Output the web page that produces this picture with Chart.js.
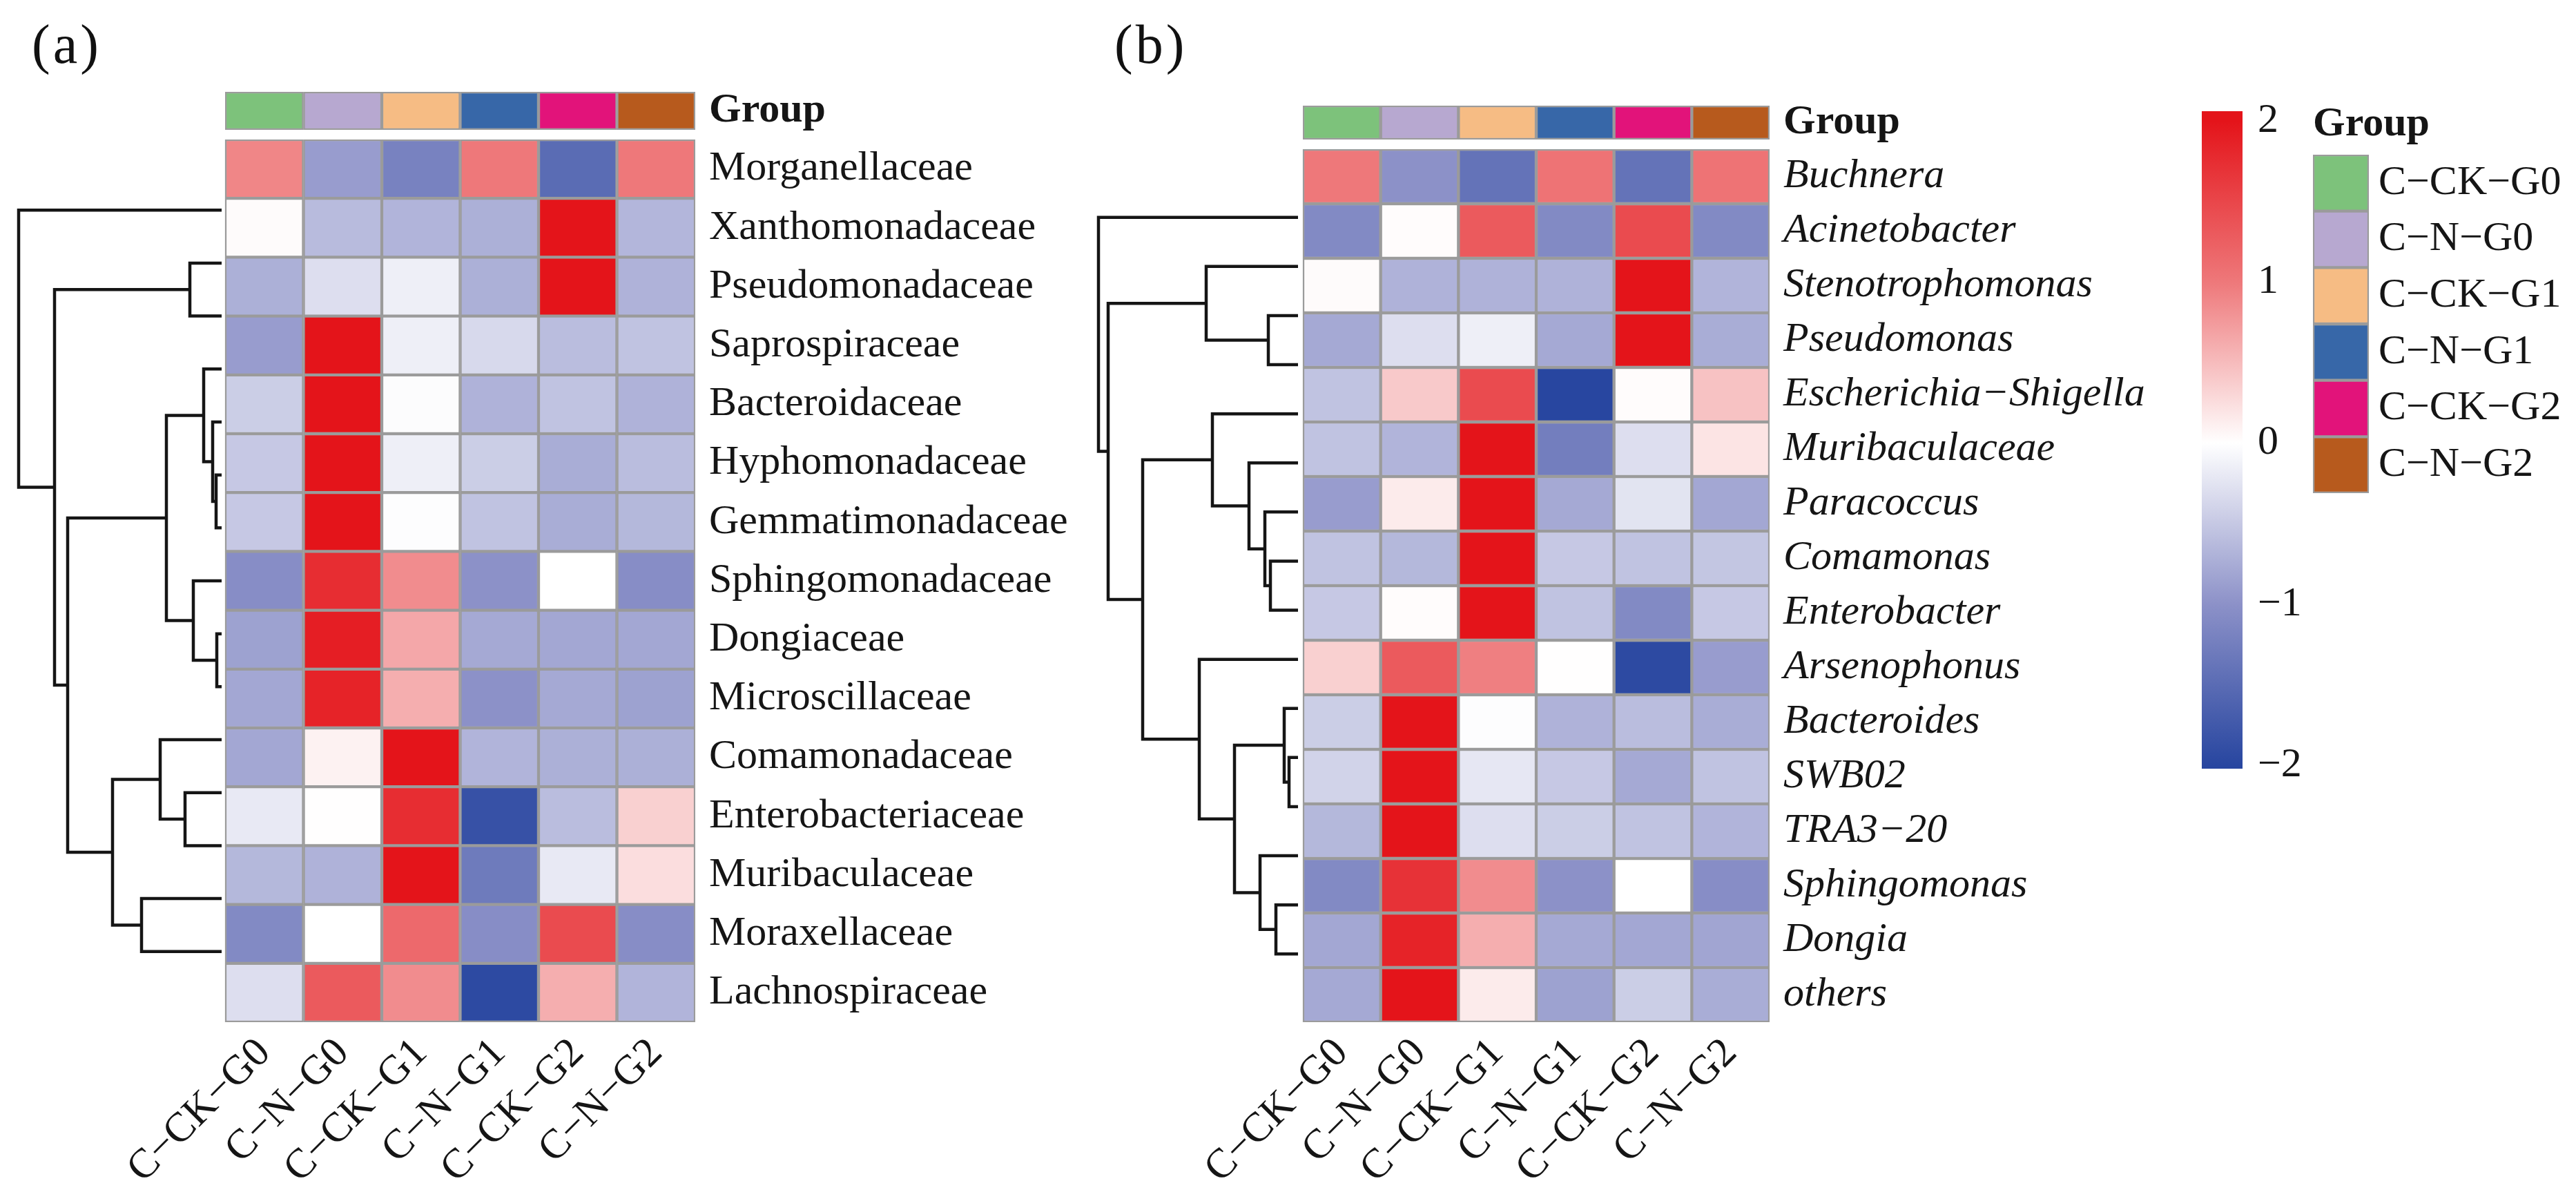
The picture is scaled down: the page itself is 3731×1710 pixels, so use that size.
<!DOCTYPE html>
<html>
<head>
<meta charset="utf-8">
<script src="https://cdn.jsdelivr.net/npm/chart.js@4.4.0/dist/chart.umd.min.js"></script>
<style>
  html, body { margin: 0; padding: 0; background: #fff; }
  #wrap { position: relative; width: 3731px; height: 1710px; overflow: hidden; background: #fff; }
  canvas { position: absolute; }
  .tag { position: absolute; font: 80px 'Liberation Serif', serif; line-height: 80px; letter-spacing: 4px; color: #111; }
</style>
</head>
<body>
<div id="wrap">
  <div class="tag" style="left:46px;top:24px">(a)</div>
  <div class="tag" style="left:1614px;top:24px">(b)</div>
  <canvas id="grpA"></canvas>
  <canvas id="heatA"></canvas>
  <canvas id="grpB"></canvas>
  <canvas id="heatB"></canvas>
  <canvas id="cbar"></canvas>
  <canvas id="legend"></canvas>
</div>
<script>
/* ---------- data ---------- */
const GROUPS = ['C−CK−G0', 'C−N−G0', 'C−CK−G1', 'C−N−G1', 'C−CK−G2', 'C−N−G2'];
const GROUP_COLORS = ['#7DC27B', '#B7A8D0', '#F6BC84', '#3767A8', '#E2137A', '#B75A1D'];

const ROWS_A = ['Morganellaceae', 'Xanthomonadaceae', 'Pseudomonadaceae', 'Saprospiraceae', 'Bacteroidaceae',
  'Hyphomonadaceae', 'Gemmatimonadaceae', 'Sphingomonadaceae', 'Dongiaceae', 'Microscillaceae',
  'Comamonadaceae', 'Enterobacteriaceae', 'Muribaculaceae', 'Moraxellaceae', 'Lachnospiraceae'];
const VALUES_A = [
  [0.90, -0.90, -1.20, 1.00, -1.50, 1.00],
  [0.03, -0.62, -0.68, -0.72, 2.00, -0.66],
  [-0.72, -0.30, -0.15, -0.72, 2.00, -0.70],
  [-0.90, 2.00, -0.15, -0.35, -0.60, -0.55],
  [-0.45, 2.00, -0.03, -0.70, -0.55, -0.70],
  [-0.50, 2.00, -0.15, -0.45, -0.75, -0.60],
  [-0.50, 2.00, -0.02, -0.55, -0.75, -0.65],
  [-1.05, 1.75, 0.85, -1.00, 0.00, -1.05],
  [-0.85, 1.90, 0.65, -0.78, -0.80, -0.80],
  [-0.80, 1.85, 0.60, -1.00, -0.78, -0.85],
  [-0.80, 0.10, 2.00, -0.68, -0.72, -0.72],
  [-0.20, 0.01, 1.75, -1.85, -0.60, 0.35],
  [-0.65, -0.70, 2.00, -1.30, -0.20, 0.25],
  [-1.10, 0.00, 1.15, -1.05, 1.45, -1.05],
  [-0.30, 1.30, 0.85, -1.95, 0.60, -0.68]
];
// dendrogram: [height, left, right], leaves are row indices
const TREE_A = [2.94, 0, [2.42, [0.46, 1, 2],
  [2.23, [0.80, [0.26, 3, [0.13, 4, [0.08, 5, 6]]], [0.41, 7, [0.07, 8, 9]]],
         [1.58, [0.89, 10, [0.53, 11, 12]], [1.16, 13, 14]]]]];

const ROWS_B = ['Buchnera', 'Acinetobacter', 'Stenotrophomonas', 'Pseudomonas', 'Escherichia−Shigella',
  'Muribaculaceae', 'Paracoccus', 'Comamonas', 'Enterobacter', 'Arsenophonus', 'Bacteroides',
  'SWB02', 'TRA3−20', 'Sphingomonas', 'Dongia', 'others'];
const VALUES_B = [
  [1.00, -1.00, -1.40, 1.05, -1.40, 1.05],
  [-1.10, 0.02, 1.30, -1.10, 1.45, -1.10],
  [0.03, -0.70, -0.70, -0.70, 2.00, -0.68],
  [-0.78, -0.30, -0.15, -0.78, 2.00, -0.75],
  [-0.55, 0.40, 1.45, -2.00, 0.02, 0.45],
  [-0.55, -0.68, 2.00, -1.25, -0.30, 0.20],
  [-0.90, 0.15, 2.00, -0.78, -0.25, -0.80],
  [-0.55, -0.65, 2.00, -0.50, -0.55, -0.52],
  [-0.50, 0.02, 2.00, -0.55, -1.10, -0.50],
  [0.35, 1.30, 0.95, 0.01, -1.95, -0.90],
  [-0.45, 2.00, -0.02, -0.70, -0.60, -0.75],
  [-0.40, 2.00, -0.22, -0.50, -0.78, -0.55],
  [-0.65, 2.00, -0.30, -0.45, -0.55, -0.68],
  [-1.10, 1.70, 0.85, -1.00, 0.00, -1.05],
  [-0.80, 1.85, 0.60, -0.78, -0.80, -0.82],
  [-0.78, 2.00, 0.15, -0.85, -0.45, -0.75]
];
const TREE_B = [2.89, 0, [2.75, [1.33, 1, [0.43, 2, 3]],
  [2.25, [1.24, 4, [0.71, 5, [0.48, 6, [0.40, 7, 8]]]],
         [1.43, 9, [0.92, [0.20, 10, [0.13, 11, 12]], [0.55, 13, [0.32, 14, 15]]]]]]];

const CB_TICKS = [2, 1, 0, -1, -2];
const CB_MIN = -2.02, CB_MAX = 2.06;

/* ---------- style ---------- */
const FONT = "'Liberation Serif', 'Times New Roman', serif";
const INK = '#151515';
const CELL_EDGE = '#9b9b9b';
const PAL = [[-2, [40, 70, 160]], [-1, [140, 145, 200]], [0, [255, 255, 255]], [1, [238, 120, 122]], [2, [228, 20, 26]]];

function heatColor(v) {
  v = Math.max(-2, Math.min(2, v));
  for (let i = 0; i < PAL.length - 1; i++) {
    const [a, ca] = PAL[i], [b, cb] = PAL[i + 1];
    if (v <= b) {
      const t = (v - a) / (b - a);
      const c = ca.map((x, k) => Math.round(x + (cb[k] - x) * t));
      return `rgb(${c[0]},${c[1]},${c[2]})`;
    }
  }
  return 'rgb(228,20,26)';
}

function place(id, left, top, w, h) {
  const el = document.getElementById(id);
  el.width = w; el.height = h;
  el.style.left = left + 'px'; el.style.top = top + 'px';
  el.style.width = w + 'px'; el.style.height = h + 'px';
  return el;
}

const noAxisLines = { grid: { display: false, drawTicks: false }, border: { display: false } };
// keep tick labels from pushing the plot area around
function noPad(ax) { ax.paddingTop = 0; ax.paddingBottom = 0; ax.paddingLeft = 0; ax.paddingRight = 0; }

/* dendrogram links as U shapes in (x = -distance, y = row) space */
function dendroLinks(tree, toX) {
  const out = [];
  (function walk(node) {
    if (typeof node === 'number') return { y: node, h: 0 };
    const [h, a, b] = node;
    const l = walk(a), r = walk(b);
    out.push([{ x: toX(l.h), y: l.y }, { x: toX(h), y: l.y }, { x: toX(h), y: r.y }, { x: toX(r.h), y: r.y }]);
    return { y: (l.y + r.y) / 2, h };
  })(tree);
  return out;
}

/* heatmap + row dendrogram + labels */
function heatChart(id, rows, vals, tree, g) {
  const el = place(id, g.cl, g.ct, g.cw, g.ch);
  const colW = (g.right - g.left) / GROUPS.length;
  const padL = 10;
  const xmin = -(g.left - g.cl - padL) / colW;
  const toX = h => -(g.gap + h * 100) / colW;
  const cells = GROUPS.map((name, c) => ({
    type: 'bar', label: name, xAxisID: 'x', yAxisID: 'y',
    data: rows.map(() => [c, c + 1]),
    backgroundColor: vals.map(r => heatColor(r[c])),
    borderColor: CELL_EDGE, borderWidth: 2.5, borderSkipped: false,
    barPercentage: 1, categoryPercentage: 1, grouped: false
  }));
  const links = dendroLinks(tree, toX).map(pts => ({
    type: 'line', data: pts, xAxisID: 'x', yAxisID: 'yd',
    borderColor: INK, borderWidth: 4.5, pointRadius: 0, fill: false, tension: 0,
    borderJoinStyle: 'miter'
  }));
  new Chart(el, {
    type: 'bar',
    data: { labels: rows, datasets: cells.concat(links) },
    options: {
      indexAxis: 'y', responsive: false, animation: false, devicePixelRatio: 1,
      layout: { padding: { left: padL, top: g.top - g.ct, right: 0, bottom: 0 } },
      plugins: { legend: { display: false }, tooltip: { enabled: false } },
      scales: {
        x: {
          type: 'linear', min: xmin, max: GROUPS.length, position: 'bottom', ...noAxisLines,
          afterBuildTicks: ax => { ax.ticks = GROUPS.map((_, i) => ({ value: i + 0.5 })); },
          afterFit: ax => { ax.height = g.ch - (g.bottom - g.ct); noPad(ax); },
          ticks: { autoSkip: false, minRotation: 45, maxRotation: 45, padding: 10, color: INK,
                   font: { family: FONT, size: 60 }, callback: (v, i) => GROUPS[i] }
        },
        y: {
          type: 'category', position: 'right', offset: true, ...noAxisLines,
          afterFit: ax => { ax.width = g.cw - (g.right - g.cl); noPad(ax); },
          ticks: { padding: 20, color: INK, font: { family: FONT, size: 60, style: g.italic ? 'italic' : 'normal' } }
        },
        yd: { type: 'linear', display: false, min: -0.5, max: rows.length - 0.5, reverse: true }
      }
    }
  });
}

/* group annotation strip above a heatmap */
function groupStrip(id, g) {
  const pad = 35;
  const el = place(id, g.cl, g.top - pad, g.cw, g.bottom - g.top + 2 * pad);
  new Chart(el, {
    type: 'bar',
    data: {
      labels: ['Group'],
      datasets: GROUPS.map((name, c) => ({
        label: name, data: [[c, c + 1]], backgroundColor: GROUP_COLORS[c],
        borderColor: CELL_EDGE, borderWidth: 2.5, borderSkipped: false,
        barPercentage: 1, categoryPercentage: 1, grouped: false
      }))
    },
    options: {
      indexAxis: 'y', responsive: false, animation: false, devicePixelRatio: 1,
      layout: { padding: { left: g.left - g.cl, top: pad, right: 0, bottom: pad } },
      plugins: { legend: { display: false }, tooltip: { enabled: false } },
      scales: {
        x: { type: 'linear', min: 0, max: GROUPS.length, display: false },
        y: {
          position: 'right', offset: true, ...noAxisLines,
          afterFit: ax => { ax.width = g.cw - (g.right - g.cl); noPad(ax); },
          ticks: { padding: 20, color: INK, font: { family: FONT, size: 60, weight: 'bold' } }
        }
      }
    }
  });
}

const GEO_A = { cl: 0, ct: 190, cw: 1560, ch: 1520, left: 326, right: 1007, top: 202, bottom: 1480, gap: 5, italic: false };
const GEO_B = { cl: 1560, ct: 190, cw: 1600, ch: 1520, left: 1887, right: 2563, top: 216, bottom: 1480, gap: 7, italic: true };

groupStrip('grpA', { cl: 0, cw: 1560, left: 326, right: 1007, top: 133, bottom: 188 });
groupStrip('grpB', { cl: 1560, cw: 1600, left: 1887, right: 2563, top: 153, bottom: 202 });
heatChart('heatA', ROWS_A, VALUES_A, TREE_A, GEO_A);
heatChart('heatB', ROWS_B, VALUES_B, TREE_B, GEO_B);

/* colour key */
(function () {
  const el = place('cbar', 3150, 100, 200, 1100);
  new Chart(el, {
    type: 'bar',
    data: {
      labels: [''],
      datasets: [{
        data: [[CB_MIN, CB_MAX]], borderWidth: 0, barPercentage: 1, categoryPercentage: 1,
        backgroundColor: ctx => {
          const ch = ctx.chart;
          if (!ch.chartArea) return '#fff';
          const ys = ch.scales.y;
          const grd = ch.ctx.createLinearGradient(0, ys.getPixelForValue(-2), 0, ys.getPixelForValue(2));
          PAL.forEach(([v]) => grd.addColorStop((v + 2) / 4, heatColor(v)));
          return grd;
        }
      }]
    },
    options: {
      responsive: false, animation: false, devicePixelRatio: 1,
      layout: { padding: { left: 39, top: 61, right: 0, bottom: 87 } },
      plugins: { legend: { display: false }, tooltip: { enabled: false } },
      scales: {
        x: { display: false },
        y: {
          type: 'linear', min: CB_MIN, max: CB_MAX, position: 'right', ...noAxisLines,
          afterBuildTicks: ax => { ax.ticks = CB_TICKS.map(v => ({ value: v })); },
          afterFit: ax => { ax.width = 102; noPad(ax); },
          ticks: { padding: 22, color: INK, font: { family: FONT, size: 60 },
                   callback: v => v < 0 ? '−' + Math.abs(v) : String(v) }
        }
      }
    }
  });
})();

/* group legend */
(function () {
  const el = place('legend', 3330, 144, 401, 570);
  new Chart(el, {
    type: 'bar',
    data: {
      labels: GROUPS,
      datasets: [{
        data: GROUPS.map(() => [0, 1]), backgroundColor: GROUP_COLORS,
        borderColor: CELL_EDGE, borderWidth: 2.5, borderSkipped: false,
        barPercentage: 1, categoryPercentage: 1
      }]
    },
    options: {
      indexAxis: 'y', responsive: false, animation: false, devicePixelRatio: 1,
      layout: { padding: { left: 20, top: 0, right: 0, bottom: 0 } },
      plugins: {
        legend: { display: false }, tooltip: { enabled: false },
        title: { display: true, text: 'Group', align: 'start', color: INK,
                 font: { family: FONT, size: 60, weight: 'bold' }, padding: { top: 0, bottom: 8 } }
      },
      scales: {
        x: { type: 'linear', min: 0, max: 1, display: false },
        y: {
          position: 'right', ...noAxisLines,
          afterFit: ax => { ax.width = 300; noPad(ax); },
          ticks: { padding: 14, color: INK, font: { family: FONT, size: 60 } }
        }
      }
    }
  });
})();
</script>
</body>
</html>
